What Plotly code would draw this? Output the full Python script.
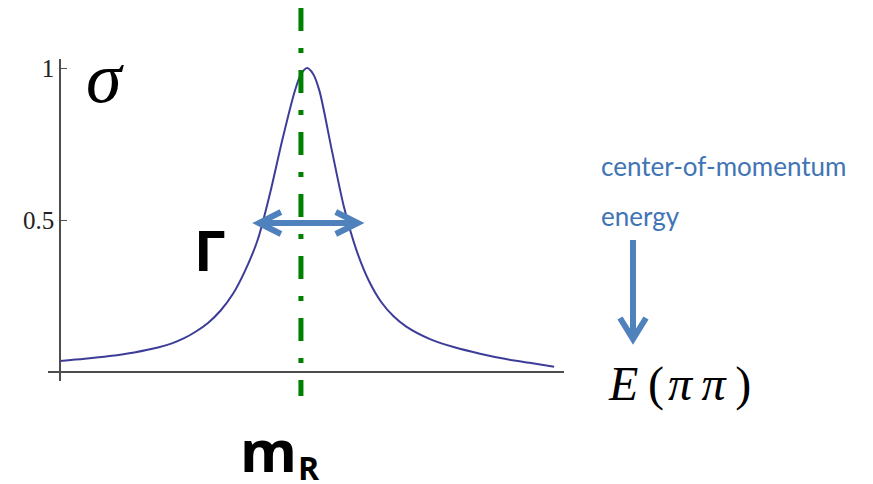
import plotly.graph_objects as go

# ---- data ----
E_vals = [0, 1, 2, 3, 4, 4.5, 5, 5.5, 6, 6.5, 7, 7.5, 8, 8.5, 9, 9.5, 9.75, 10,
          10.25, 10.5, 11, 11.5, 12, 12.5, 13, 13.5, 14, 15, 16, 17, 18, 19, 20]
sigma_vals = [0.036, 0.043, 0.052, 0.064, 0.081, 0.093, 0.11, 0.133, 0.162, 0.202,
              0.257, 0.335, 0.435, 0.588, 0.765, 0.924, 0.98, 1.0, 0.98, 0.925,
              0.73, 0.54, 0.40, 0.30, 0.23, 0.183, 0.15, 0.107, 0.08, 0.06, 0.043,
              0.03, 0.017]
y_tick_vals = [0.5, 1]
y_tick_text = ["0.5", "1"]
m_R = 9.75            # resonance mass position
gamma_left = 8.05     # left end of width arrow
gamma_right = 12.05   # right end of width arrow
half_max = 0.49       # height of the width arrow

# ---- geometry ----
W_FIG, H_FIG = 873, 484
L, T = 48, 59
PW, PH = 516, 322
x_range = [-0.49, 20.4]
y_range = [-0.03, 1.03]

def px(xpix):
    return (xpix - L) / PW

def py(ypix):
    return (T + PH - ypix) / PH

CURVE = "#3D3D99"
BLUE = "#4F81BD"
TXTBLUE = "#3F74B5"
GREEN = "#008000"
AX = "#4d4d4d"

fig = go.Figure()
fig.add_trace(go.Scatter(x=E_vals, y=sigma_vals, mode="lines",
                         line=dict(color=CURVE, width=2, shape="spline", smoothing=0.8),
                         hoverinfo="skip", showlegend=False))

shapes = []
# resonance line (dash-dot)
shapes.append(dict(type="line", xref="x", yref="paper", x0=m_R, x1=m_R,
                   y0=py(8), y1=py(396),
                   line=dict(color=GREEN, width=5, dash="23px,17px,5px,17px")))
# width arrow
arm_dx = 22 / PW * (x_range[1] - x_range[0])
arm_dy = 11 / PH * (y_range[1] - y_range[0])
shapes.append(dict(type="line", xref="x", yref="y", x0=gamma_left + 0.05, x1=gamma_right - 0.05,
                   y0=half_max, y1=half_max, line=dict(color=BLUE, width=6)))
shapes.append(dict(type="path", xref="x", yref="y",
                   path=f"M {gamma_left+arm_dx},{half_max+arm_dy} L {gamma_left},{half_max} L {gamma_left+arm_dx},{half_max-arm_dy}",
                   line=dict(color=BLUE, width=6)))
shapes.append(dict(type="path", xref="x", yref="y",
                   path=f"M {gamma_right-arm_dx},{half_max+arm_dy} L {gamma_right},{half_max} L {gamma_right-arm_dx},{half_max-arm_dy}",
                   line=dict(color=BLUE, width=6)))
# down arrow
shapes.append(dict(type="line", xref="paper", yref="paper", x0=px(633), x1=px(633),
                   y0=py(240), y1=py(336), line=dict(color=BLUE, width=6)))
shapes.append(dict(type="path", xref="paper", yref="paper",
                   path=f"M {px(620)},{py(318)} L {px(633)},{py(339)} L {px(646)},{py(318)}",
                   line=dict(color=BLUE, width=6)))

ann = []
def add_text(text, xpix, ypix, size, family, color="black", xanchor="center"):
    ann.append(dict(text=text, xref="paper", yref="paper", x=px(xpix), y=py(ypix),
                    xanchor=xanchor, yanchor="middle", showarrow=False,
                    font=dict(size=size, family=family, color=color)))

add_text("<i>σ</i>", 105, 78, 72, "Liberation Serif")
add_text("<i>E</i>\u2009(<i>\u200aπ\u2009π</i>\u2009)", 679, 384, 48, "Liberation Serif")
add_text("<b>Γ</b>", 209, 249, 56, "Open Sans")
add_text("<b>m</b>", 268, 449, 58, "Open Sans")
add_text("<b>R</b>", 309, 467, 32, "Open Sans")
add_text("center-of-momentum", 599, 166, 26, "Lato", TXTBLUE, "left")
add_text("energy", 599, 216, 26, "Lato", TXTBLUE, "left")

fig.update_layout(
    width=W_FIG, height=H_FIG,
    margin=dict(l=L, r=W_FIG - L - PW, t=T, b=H_FIG - T - PH, pad=0, autoexpand=False),
    paper_bgcolor="white", plot_bgcolor="white",
    shapes=shapes, annotations=ann, showlegend=False,
    xaxis=dict(range=x_range, showgrid=False, zeroline=False, showticklabels=False,
               ticks="", showline=True, linecolor=AX, linewidth=1.6,
               anchor="free", position=(0 - y_range[0]) / (y_range[1] - y_range[0])),
    yaxis=dict(range=y_range, showgrid=False, zeroline=False,
               tickvals=y_tick_vals, ticktext=y_tick_text, ticks="inside",
               ticklen=6, tickwidth=1, tickcolor=AX,
               tickfont=dict(family="Liberation Serif", size=25, color="#222"),
               showline=True, linecolor=AX, linewidth=1.6,
               anchor="free", position=(0 - x_range[0]) / (x_range[1] - x_range[0])),
)

fig.write_html("out.html", config={"displayModeBar": False},
               post_script="document.body.style.margin='0';")
